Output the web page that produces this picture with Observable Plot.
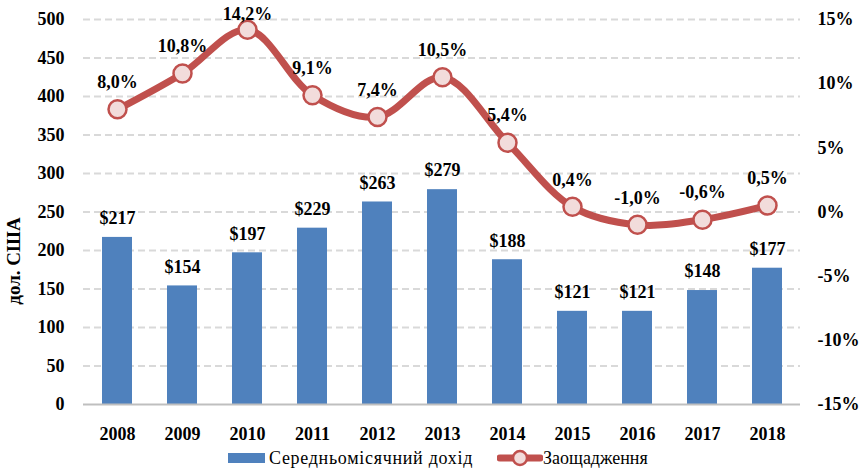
<!DOCTYPE html>
<html><head><meta charset="utf-8">
<script src="https://cdn.jsdelivr.net/npm/d3@7"></script>
<script src="https://cdn.jsdelivr.net/npm/@observablehq/plot@0.6"></script>
<style>
body{margin:0;background:#fff;width:862px;height:472px;overflow:hidden;}
#legend{position:relative;height:27px;font-family:"Liberation Serif","Times New Roman",serif;font-size:18px;color:#000;}
#legend .inner{position:absolute;left:228px;top:2px;display:flex;align-items:center;height:22px;}
#legend .item{display:flex;align-items:center;}
</style>
</head><body>
<div id="chart"></div>
<div id="legend"><div class="inner">
  <div class="item"><svg width="41" height="14"><rect x="0" y="2" width="37" height="10" fill="#4F81BD"/></svg><span style="letter-spacing:0.7px">Середньомісячний дохід</span></div>
  <div class="item" style="margin-left:24px"><svg width="46" height="22"><line x1="3" y1="11" x2="43" y2="11" stroke="#C0504D" stroke-width="7" stroke-linecap="round"/><circle cx="23" cy="11" r="7" fill="#F2DCDB" stroke="#C0504D" stroke-width="2.5"/></svg><span>Заощадження</span></div>
</div></div>
<script>
const years = ["2008","2009","2010","2011","2012","2013","2014","2015","2016","2017","2018"];
const income = [217,154,197,229,263,279,188,121,121,148,177];
const savings = [8.0,10.8,14.2,9.1,7.4,10.5,5.4,0.4,-1.0,-0.6,0.5];
const leftTicks = [0,50,100,150,200,250,300,350,400,450,500];
const rightTicks = [-15,-10,-5,0,5,10,15];
const yTitle = "дол. США";

const toLeft = p => (p + 15) / 30 * 500;
const data = years.map((y, i) => ({year: y, income: income[i], s: savings[i]}));
const font = "Liberation Serif, Times New Roman, serif";

const chart = Plot.plot({
  width: 862,
  height: 445,
  marginLeft: 83,
  marginRight: 62,
  marginTop: 19,
  marginBottom: 41,
  style: {fontFamily: font, fontSize: "18px", fontWeight: "bold", color: "#000", background: "#fff"},
  x: {type: "band", domain: years, paddingInner: 0.54, paddingOuter: 0.27},
  y: {domain: [0, 500]},
  marks: [
    Plot.ruleY(leftTicks.filter(v => v > 0), {stroke: "#D9D9D9", strokeWidth: 2, strokeDasharray: "7,4"}),
    Plot.barY(data, {x: "year", y: "income", fill: "#4F81BD"}),
    Plot.ruleY([0], {stroke: "#BFBFBF", strokeWidth: 2}),
    Plot.axisX({tickSize: 0, tickPadding: 23, label: null, fontSize: 18, fontWeight: "bold"}),
    Plot.axisY(leftTicks, {anchor: "left", tickSize: 0, tickPadding: 19, label: null, fontSize: 18, fontWeight: "bold"}),
    Plot.axisY(rightTicks.map(toLeft), {anchor: "right", tickSize: 0, tickPadding: 17, label: null, fontSize: 18, fontWeight: "bold",
      tickFormat: v => Math.round(v / 500 * 30 - 15) + "%"}),
    Plot.text([yTitle], {frameAnchor: "left", textAnchor: "middle", rotate: -90, dx: -70, dy: 49, fontSize: 19, fontWeight: "bold"}),
    Plot.text(data, {x: "year", y: "income", text: d => "$" + d.income, dy: -19, lineAnchor: "middle", fontSize: 18, fontWeight: "bold"}),
    Plot.line(data, {x: "year", y: d => toLeft(d.s), stroke: "#C0504D", strokeWidth: 7, curve: "catmull-rom"}),
    Plot.dot(data, {x: "year", y: d => toLeft(d.s), r: 9, fill: "#F2DCDB", stroke: "#C0504D", strokeWidth: 2.5}),
    Plot.text(data, {x: "year", y: d => Math.min(toLeft(d.s) + 27 / 0.77, 500 + 5 / 0.77), text: d => d.s.toFixed(1).replace(".", ",") + "%",
      lineAnchor: "middle", fontSize: 18, fontWeight: "bold"})
  ]
});
document.getElementById("chart").appendChild(chart);
</script>
</body></html>
